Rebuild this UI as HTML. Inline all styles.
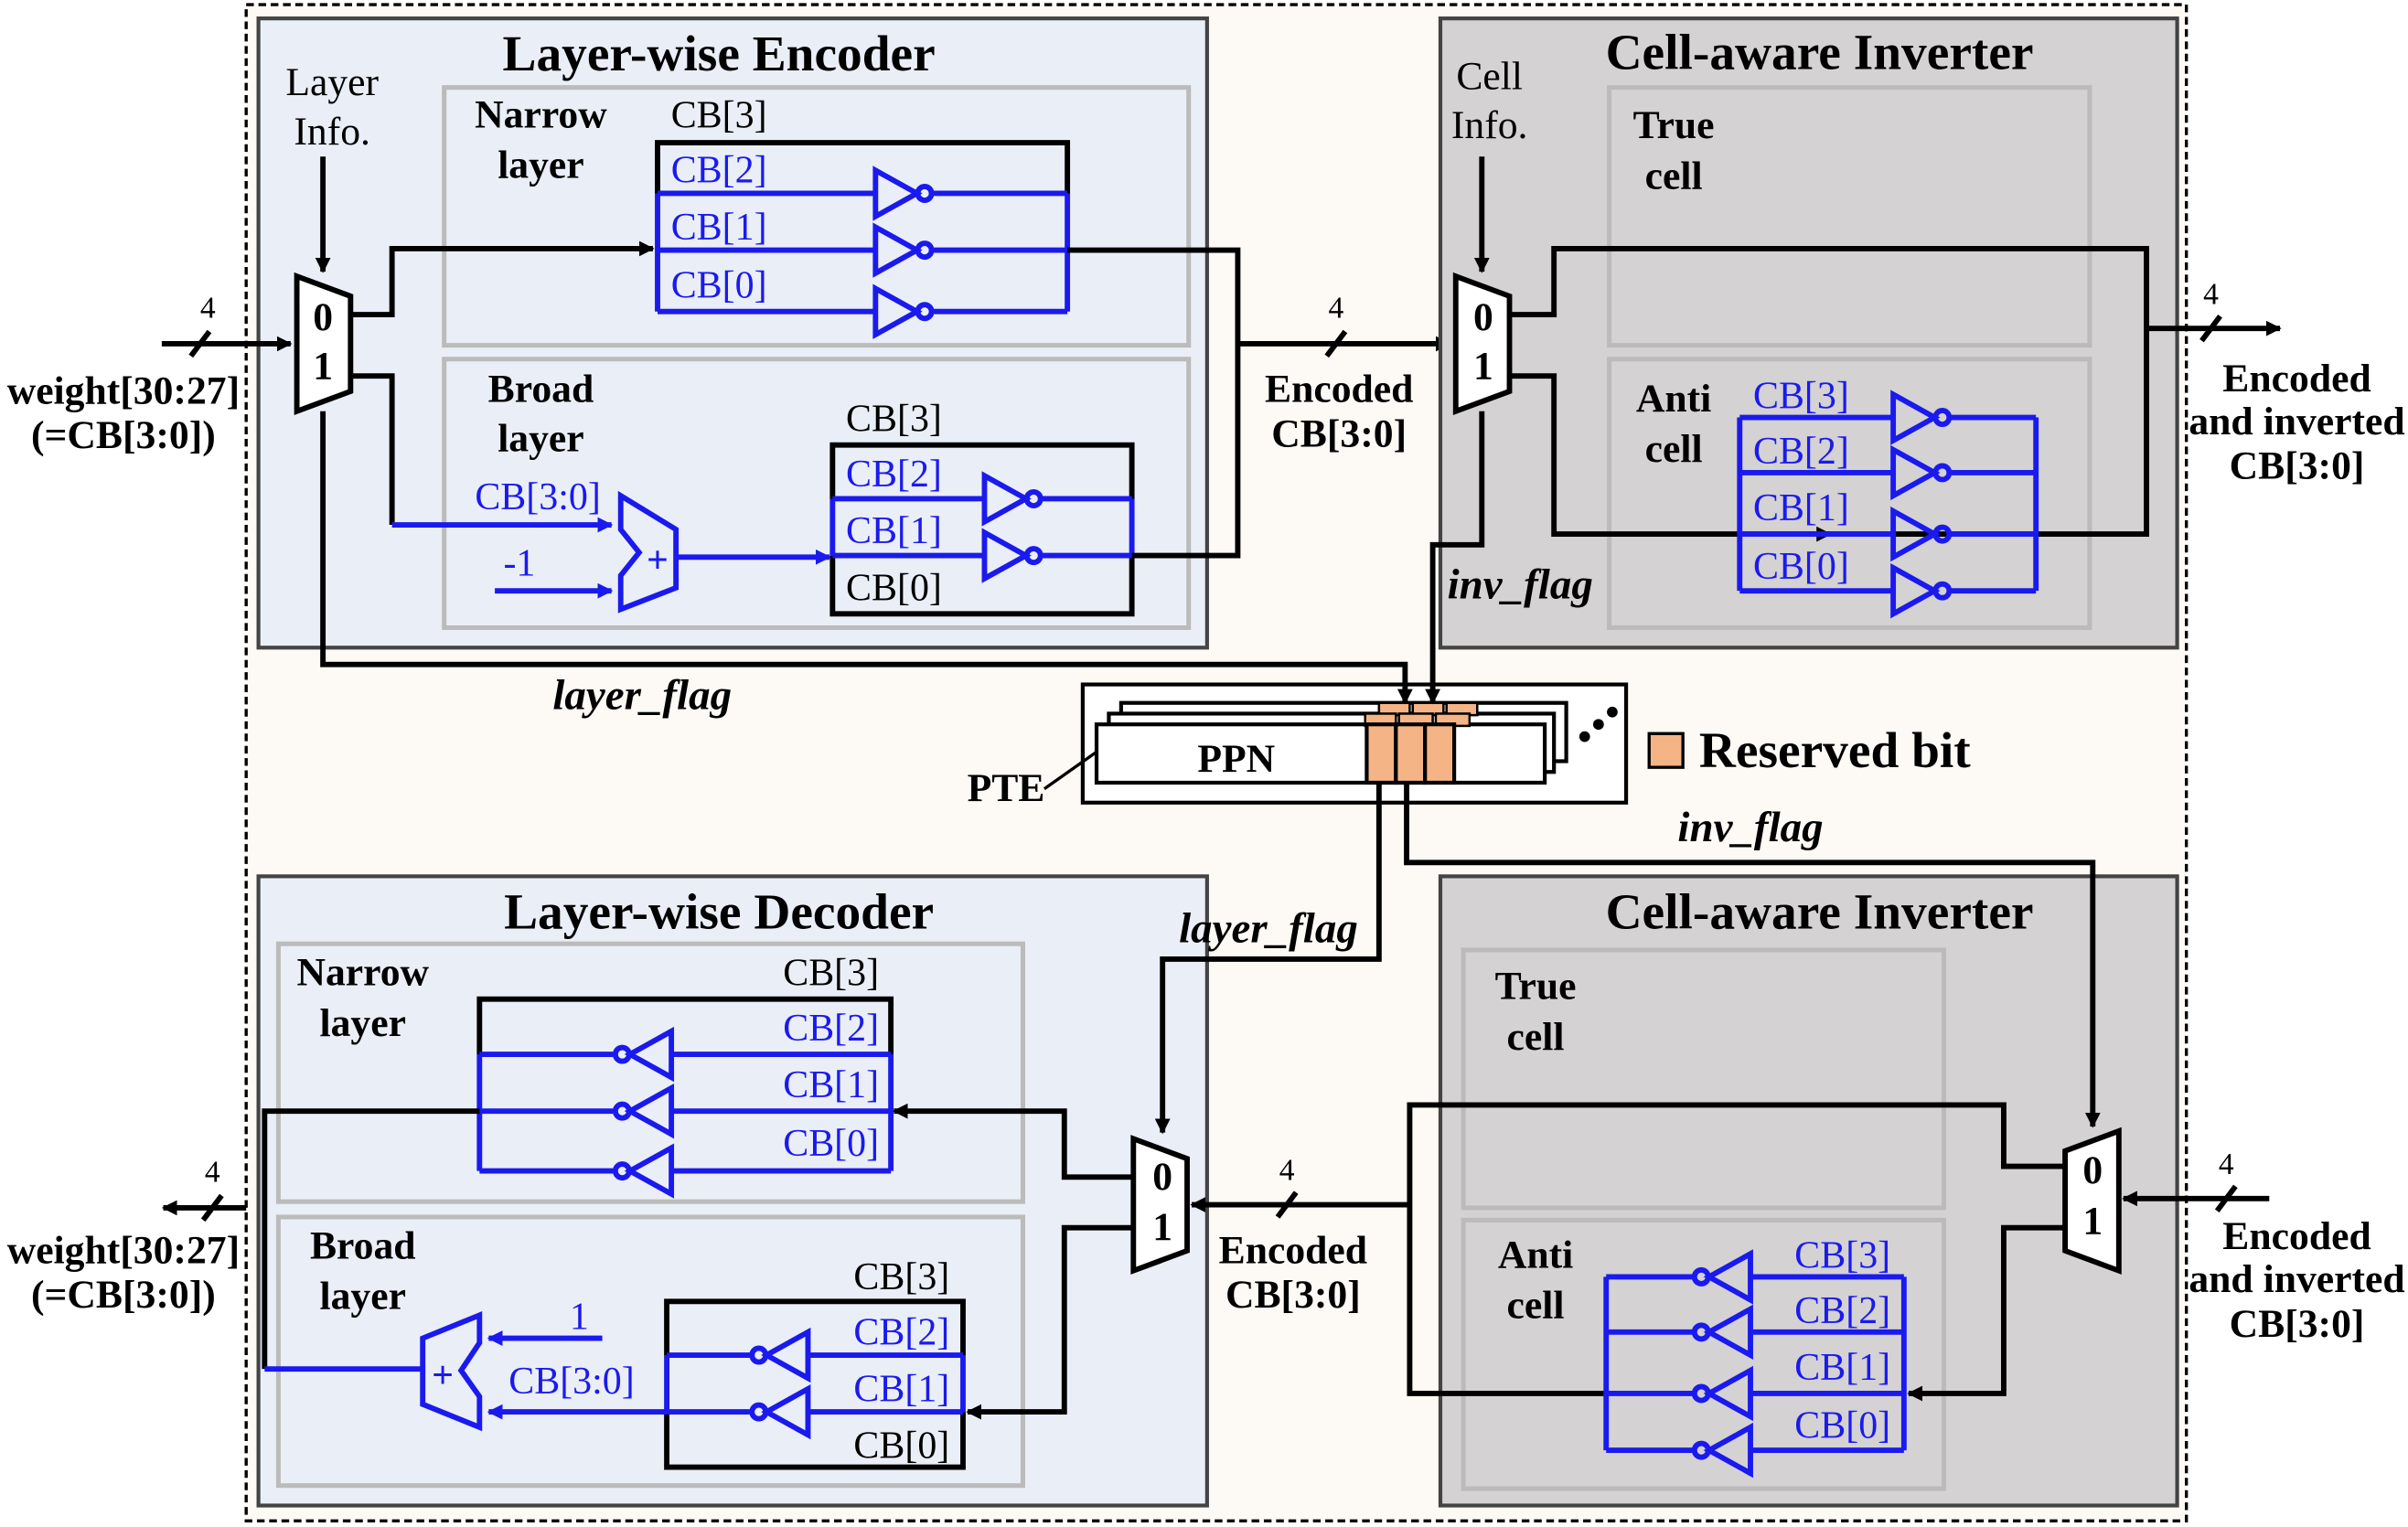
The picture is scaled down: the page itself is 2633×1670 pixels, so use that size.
<!DOCTYPE html>
<html><head><meta charset="utf-8"><style>
html,body{margin:0;padding:0;background:#fff;}
svg{display:block;}
text{font-family:"Liberation Serif",serif;}
.t{font-size:33px;font-weight:bold;text-anchor:middle;}
.b{font-size:26px;font-weight:bold;text-anchor:middle;}
.r{font-size:26px;text-anchor:middle;}
.cb{font-size:25px;fill:#1a1aee;text-anchor:middle;}
.cbk{font-size:25px;fill:#000;text-anchor:middle;}
.k{stroke:#000;stroke-width:3.5;fill:none;}
.bl{stroke:#1a1aee;stroke-width:3.5;fill:none;}
.it{font-size:28px;font-weight:bold;font-style:italic;text-anchor:middle;}
</style></head><body>
<svg width="2633" height="1670" viewBox="0 0 1568 995" xmlns="http://www.w3.org/2000/svg">
<defs>
<marker id="ak" markerWidth="10" markerHeight="10" refX="9" refY="5" orient="auto" markerUnits="userSpaceOnUse"><path d="M0,0 L10,5 L0,10 z" fill="#000"/></marker>
<marker id="ab" markerWidth="10" markerHeight="10" refX="9" refY="5" orient="auto" markerUnits="userSpaceOnUse"><path d="M0,0 L10,5 L0,10 z" fill="#1a1aee"/></marker>
</defs>
<rect width="1568" height="995" fill="#fff"/>
<rect x="160" y="3" width="1264" height="988" fill="#fdfaf6" stroke="#000" stroke-width="2" stroke-dasharray="5,3"/>

<!-- Encoder -->
<rect x="168" y="12" width="618" height="410" fill="#eaeef6" stroke="#444" stroke-width="2.5"/>
<text class="t" x="468" y="46">Layer-wise Encoder</text>
<rect x="289" y="57" width="485" height="168" fill="none" stroke="#bbb" stroke-width="3"/>
<rect x="289" y="234" width="485" height="175" fill="none" stroke="#bbb" stroke-width="3"/>
<text class="b" x="352" y="83">Narrow</text><text class="b" x="352" y="116">layer</text>
<text class="b" x="352" y="262">Broad</text><text class="b" x="352" y="294">layer</text>
<text class="r" x="216" y="62">Layer</text><text class="r" x="216" y="94">Info.</text>
<line class="k" x1="210" y1="102" x2="210" y2="177" marker-end="url(#ak)"/>
<polygon points="193,180 228,193 228,255 193,268" fill="#fff" stroke="#000" stroke-width="3.5"/>
<text class="b" x="210" y="215">0</text><text class="b" x="210" y="247">1</text>
<line class="k" x1="105" y1="224" x2="189" y2="224" marker-end="url(#ak)"/>
<line class="k" x1="124" y1="232" x2="136" y2="216" stroke-width="2"/>
<text class="r" x="135" y="207" style="font-size:20px">4</text>
<text class="b" x="80" y="263">weight[30:27]</text><text class="b" x="80" y="292">(=CB[3:0])</text>
<polyline class="k" points="228,205 255,205 255,162 425,162" marker-end="url(#ak)"/>
<polyline class="k" points="228,245 255,245 255,342"/>
<line class="bl" x1="255" y1="342" x2="398" y2="342" marker-end="url(#ab)"/>
<text class="cb" x="350" y="332">CB[3:0]</text>
<text class="cb" x="338" y="375">-1</text>
<line class="bl" x1="322" y1="385" x2="398" y2="385" marker-end="url(#ab)"/>
<polygon points="404,323 440,345 440,383 404,397 404,375 416,360 404,345" fill="none" stroke="#1a1aee" stroke-width="3.5"/>
<text class="cb" x="428" y="373" style="font-weight:bold">+</text>
<line class="bl" x1="440" y1="363" x2="540" y2="363" marker-end="url(#ab)"/>
<polyline class="k" points="428,126 428,93 695,93 695,126"/>
<line class="bl" x1="428" y1="126" x2="428" y2="203"/><line class="bl" x1="695" y1="126" x2="695" y2="203"/>
<g class="bl">
<line x1="428" y1="126" x2="570" y2="126"/><line x1="608" y1="126" x2="695" y2="126"/>
<line x1="428" y1="163" x2="570" y2="163"/><line x1="608" y1="163" x2="695" y2="163"/>
<line x1="428" y1="203" x2="570" y2="203"/><line x1="608" y1="203" x2="695" y2="203"/>
<polygon points="570,111 597,126 570,141"/><circle cx="602" cy="126" r="4.5"/>
<polygon points="570,148 597,163 570,178"/><circle cx="602" cy="163" r="4.5"/>
<polygon points="570,188 597,203 570,218"/><circle cx="602" cy="203" r="4.5"/>
</g>
<text class="cbk" x="468" y="83">CB[3]</text><text class="cb" x="468" y="119">CB[2]</text>
<text class="cb" x="468" y="156">CB[1]</text><text class="cb" x="468" y="194">CB[0]</text>
<polyline class="k" points="542,325 542,290 737,290 737,325"/>
<polyline class="k" points="542,362 542,400 737,400 737,362"/>
<line class="bl" x1="542" y1="325" x2="542" y2="362"/><line class="bl" x1="737" y1="325" x2="737" y2="362"/>
<g class="bl">
<line x1="542" y1="325" x2="641" y2="325"/><line x1="679" y1="325" x2="737" y2="325"/>
<line x1="542" y1="362" x2="641" y2="362"/><line x1="679" y1="362" x2="737" y2="362"/>
<polygon points="641,310 668,325 641,340"/><circle cx="673" cy="325" r="4.5"/>
<polygon points="641,347 668,362 641,377"/><circle cx="673" cy="362" r="4.5"/>
</g>
<text class="cbk" x="582" y="281">CB[3]</text><text class="cb" x="582" y="317">CB[2]</text>
<text class="cb" x="582" y="354">CB[1]</text><text class="cbk" x="582" y="391">CB[0]</text>
<polyline class="k" points="695,163 806,163 806,362 737,362"/>
<line class="k" x1="806" y1="224" x2="944" y2="224" marker-end="url(#ak)"/>
<line class="k" x1="864" y1="232" x2="876" y2="216" stroke-width="2"/>
<text class="r" x="870" y="207" style="font-size:20px">4</text>
<text class="b" x="872" y="262">Encoded</text><text class="b" x="872" y="291">CB[3:0]</text>

<!-- Inverter top -->
<rect x="938" y="12" width="480" height="410" fill="#d4d2d2" stroke="#444" stroke-width="2.5"/>
<text class="t" x="1185" y="45">Cell-aware Inverter</text>
<rect x="1048" y="57" width="313" height="168" fill="none" stroke="#bbb" stroke-width="3"/>
<rect x="1048" y="234" width="313" height="175" fill="none" stroke="#bbb" stroke-width="3"/>
<text class="b" x="1090" y="90">True</text><text class="b" x="1090" y="123">cell</text>
<text class="b" x="1090" y="268">Anti</text><text class="b" x="1090" y="301">cell</text>
<text class="r" x="970" y="58">Cell</text><text class="r" x="970" y="90">Info.</text>
<line class="k" x1="965" y1="102" x2="965" y2="177" marker-end="url(#ak)"/>
<polygon points="948,180 983,193 983,255 948,268" fill="#fff" stroke="#000" stroke-width="3.5"/>
<text class="b" x="966" y="215">0</text><text class="b" x="966" y="247">1</text>
<polyline class="k" points="983,205 1012,205 1012,162 1398,162 1398,348 1012,348 1012,245 983,245"/>
<line class="k" x1="1185" y1="348" x2="1192" y2="348" marker-end="url(#ak)"/>
<line class="k" x1="1398" y1="214" x2="1485" y2="214" marker-end="url(#ak)"/>
<line class="k" x1="1434" y1="222" x2="1446" y2="206" stroke-width="2"/>
<text class="r" x="1440" y="198" style="font-size:20px">4</text>
<text class="b" x="1496" y="255">Encoded</text><text class="b" x="1496" y="283">and inverted</text><text class="b" x="1496" y="312">CB[3:0]</text>
<line class="bl" x1="1133" y1="272" x2="1133" y2="385"/><line class="bl" x1="1326" y1="272" x2="1326" y2="385"/>
<g class="bl">
<line x1="1133" y1="272" x2="1233" y2="272"/><line x1="1271" y1="272" x2="1326" y2="272"/>
<line x1="1133" y1="308" x2="1233" y2="308"/><line x1="1271" y1="308" x2="1326" y2="308"/>
<line x1="1133" y1="348" x2="1233" y2="348"/><line x1="1271" y1="348" x2="1326" y2="348"/>
<line x1="1133" y1="385" x2="1233" y2="385"/><line x1="1271" y1="385" x2="1326" y2="385"/>
<polygon points="1233,257 1260,272 1233,287"/><circle cx="1265" cy="272" r="4.5"/>
<polygon points="1233,293 1260,308 1233,323"/><circle cx="1265" cy="308" r="4.5"/>
<polygon points="1233,333 1260,348 1233,363"/><circle cx="1265" cy="348" r="4.5"/>
<polygon points="1233,370 1260,385 1233,400"/><circle cx="1265" cy="385" r="4.5"/>
</g>
<text class="cb" x="1173" y="266">CB[3]</text><text class="cb" x="1173" y="302">CB[2]</text>
<text class="cb" x="1173" y="339">CB[1]</text><text class="cb" x="1173" y="377">CB[0]</text>
<text class="it" x="990" y="390">inv_flag</text>

<!-- Decoder -->
<rect x="168" y="571" width="618" height="410" fill="#eaeef6" stroke="#444" stroke-width="2.5"/>
<text class="t" x="468" y="605">Layer-wise Decoder</text>
<rect x="181" y="615" width="485" height="168" fill="none" stroke="#bbb" stroke-width="3"/>
<rect x="181" y="793" width="485" height="175" fill="none" stroke="#bbb" stroke-width="3"/>
<text class="b" x="236" y="642">Narrow</text><text class="b" x="236" y="675">layer</text>
<text class="b" x="236" y="820">Broad</text><text class="b" x="236" y="853">layer</text>
<polyline class="k" points="312,687 312,651 580,651 580,687"/>
<line class="bl" x1="312" y1="687" x2="312" y2="763"/><line class="bl" x1="580" y1="687" x2="580" y2="763"/>
<g class="bl">
<line x1="312" y1="687" x2="399" y2="687"/><line x1="437" y1="687" x2="580" y2="687"/>
<line x1="312" y1="724" x2="399" y2="724"/><line x1="437" y1="724" x2="580" y2="724"/>
<line x1="312" y1="763" x2="399" y2="763"/><line x1="437" y1="763" x2="580" y2="763"/>
<polygon points="437,672 410,687 437,702"/><circle cx="405" cy="687" r="4.5"/>
<polygon points="437,709 410,724 437,739"/><circle cx="405" cy="724" r="4.5"/>
<polygon points="437,748 410,763 437,778"/><circle cx="405" cy="763" r="4.5"/>
</g>
<text class="cbk" x="541" y="642">CB[3]</text><text class="cb" x="541" y="678">CB[2]</text>
<text class="cb" x="541" y="715">CB[1]</text><text class="cb" x="541" y="753">CB[0]</text>
<polyline class="k" points="434,883 434,848 627,848 627,883"/>
<polyline class="k" points="434,920 434,956 627,956 627,920"/>
<line class="bl" x1="434" y1="883" x2="434" y2="920"/><line class="bl" x1="627" y1="883" x2="627" y2="920"/>
<g class="bl">
<line x1="434" y1="883" x2="488" y2="883"/><line x1="526" y1="883" x2="627" y2="883"/>
<line x1="526" y1="920" x2="627" y2="920"/>
<polygon points="526,868 499,883 526,898"/><circle cx="494" cy="883" r="4.5"/>
<polygon points="526,905 499,920 526,935"/><circle cx="494" cy="920" r="4.5"/>
</g>
<text class="cbk" x="587" y="840">CB[3]</text><text class="cb" x="587" y="876">CB[2]</text>
<text class="cb" x="587" y="913">CB[1]</text><text class="cbk" x="587" y="950">CB[0]</text>
<polygon points="312,857 275,872 275,915 312,930 312,910 300,893 312,875" fill="none" stroke="#1a1aee" stroke-width="3.5"/>
<text class="cb" x="288" y="904" style="font-weight:bold">+</text>
<text class="cb" x="377" y="866">1</text>
<line class="bl" x1="392" y1="872" x2="318" y2="872" marker-end="url(#ab)"/>
<text class="cb" x="372" y="908">CB[3:0]</text>
<line class="bl" x1="488" y1="920" x2="318" y2="920" marker-end="url(#ab)"/>
<polyline class="k" points="312,724 172,724 172,892"/>
<line class="bl" x1="172" y1="892" x2="275" y2="892"/>
<line class="k" x1="160" y1="787" x2="106" y2="787" marker-end="url(#ak)"/>
<line class="k" x1="132" y1="795" x2="144" y2="779" stroke-width="2"/>
<text class="r" x="138" y="770" style="font-size:20px">4</text>
<text class="b" x="80" y="823">weight[30:27]</text><text class="b" x="80" y="852">(=CB[3:0])</text>
<polygon points="738,742 773,755 773,815 738,828" fill="#fff" stroke="#000" stroke-width="3.5"/>
<text class="b" x="757" y="775">0</text><text class="b" x="757" y="808">1</text>
<polyline class="k" points="738,767 693,767 693,724 582,724" marker-end="url(#ak)"/>
<polyline class="k" points="738,800 693,800 693,920 630,920" marker-end="url(#ak)"/>
<line class="k" x1="918" y1="785" x2="776" y2="785" marker-end="url(#ak)"/>
<line class="k" x1="832" y1="793" x2="844" y2="777" stroke-width="2"/>
<text class="r" x="838" y="769" style="font-size:20px">4</text>
<text class="b" x="842" y="823">Encoded</text><text class="b" x="842" y="852">CB[3:0]</text>

<!-- Inverter bottom -->
<rect x="938" y="571" width="480" height="410" fill="#d4d2d2" stroke="#444" stroke-width="2.5"/>
<text class="t" x="1185" y="605">Cell-aware Inverter</text>
<rect x="953" y="619" width="313" height="168" fill="none" stroke="#bbb" stroke-width="3"/>
<rect x="953" y="795" width="313" height="175" fill="none" stroke="#bbb" stroke-width="3"/>
<text class="b" x="1000" y="651">True</text><text class="b" x="1000" y="684">cell</text>
<text class="b" x="1000" y="826">Anti</text><text class="b" x="1000" y="859">cell</text>
<polygon points="1345,750 1380,737 1380,828 1345,815" fill="#fff" stroke="#000" stroke-width="3.5"/>
<text class="b" x="1363" y="771">0</text><text class="b" x="1363" y="804">1</text>
<polyline class="k" points="1345,760 1305,760 1305,720 918,720 918,908 1046,908"/>
<polyline class="k" points="1345,800 1305,800 1305,908 1243,908" marker-end="url(#ak)"/>
<line class="k" x1="1478" y1="781" x2="1383" y2="781" marker-end="url(#ak)"/>
<line class="k" x1="1444" y1="789" x2="1456" y2="773" stroke-width="2"/>
<text class="r" x="1450" y="765" style="font-size:20px">4</text>
<text class="b" x="1496" y="814">Encoded</text><text class="b" x="1496" y="842">and inverted</text><text class="b" x="1496" y="871">CB[3:0]</text>
<line class="bl" x1="1046" y1="832" x2="1046" y2="945"/><line class="bl" x1="1240" y1="832" x2="1240" y2="945"/>
<g class="bl">
<line x1="1046" y1="832" x2="1103" y2="832"/><line x1="1140" y1="832" x2="1240" y2="832"/>
<line x1="1046" y1="868" x2="1103" y2="868"/><line x1="1140" y1="868" x2="1240" y2="868"/>
<line x1="1046" y1="908" x2="1103" y2="908"/><line x1="1140" y1="908" x2="1240" y2="908"/>
<line x1="1046" y1="945" x2="1103" y2="945"/><line x1="1140" y1="945" x2="1240" y2="945"/>
<polygon points="1140,817 1113,832 1140,847"/><circle cx="1108" cy="832" r="4.5"/>
<polygon points="1140,853 1113,868 1140,883"/><circle cx="1108" cy="868" r="4.5"/>
<polygon points="1140,893 1113,908 1140,923"/><circle cx="1108" cy="908" r="4.5"/>
<polygon points="1140,930 1113,945 1140,960"/><circle cx="1108" cy="945" r="4.5"/>
</g>
<text class="cb" x="1200" y="826">CB[3]</text><text class="cb" x="1200" y="862">CB[2]</text>
<text class="cb" x="1200" y="899">CB[1]</text><text class="cb" x="1200" y="937">CB[0]</text>

<!-- PTE -->
<rect x="705" y="446" width="354" height="77" fill="#fff" stroke="#000" stroke-width="2.5"/>
<rect x="730" y="458" width="290" height="38" fill="#fff" stroke="#000" stroke-width="2.5"/>
<rect x="722" y="465" width="290" height="38" fill="#fff" stroke="#000" stroke-width="2.5"/>
<rect x="714" y="472" width="292" height="38" fill="#fff" stroke="#000" stroke-width="2.5"/>
<g fill="#f4b486" stroke="#000" stroke-width="1.5">
<rect x="898" y="458" width="20" height="8"/><rect x="920" y="458" width="20" height="8"/><rect x="942" y="458" width="20" height="8"/>
<rect x="889" y="465" width="20" height="8"/><rect x="911" y="465" width="22" height="8"/><rect x="935" y="465" width="22" height="8"/>
</g>
<g fill="#f4b486" stroke="#000" stroke-width="2.5">
<rect x="890" y="472" width="19" height="38"/><rect x="909" y="472" width="19" height="38"/><rect x="928" y="472" width="19" height="38"/>
</g>
<text class="b" x="805" y="503">PPN</text>
<circle cx="1032" cy="480" r="3.5"/><circle cx="1041" cy="472" r="3.5"/><circle cx="1050" cy="464" r="3.5"/>
<line x1="680" y1="514" x2="714" y2="490" stroke="#000" stroke-width="2"/>
<text class="b" x="655" y="522">PTE</text>
<rect x="1074" y="478" width="22" height="22" fill="#f4b486" stroke="#000" stroke-width="2"/>
<text x="1195" y="500" style="font-size:33px;font-weight:bold;text-anchor:middle">Reserved bit</text>

<!-- flag connectors (on top) -->
<polyline class="k" points="210,268 210,433 915,433 915,458" marker-end="url(#ak)"/>
<polyline class="k" points="965,268 965,355 933,355 933,458" marker-end="url(#ak)"/>
<text class="it" x="418" y="462">layer_flag</text>
<polyline class="k" points="898,510 898,625 757,625 757,738" marker-end="url(#ak)"/>
<polyline class="k" points="916,510 916,562 1363,562 1363,734" marker-end="url(#ak)"/>
<text class="it" x="826" y="614">layer_flag</text>
<text class="it" x="1140" y="548">inv_flag</text>
</svg>
</body></html>
